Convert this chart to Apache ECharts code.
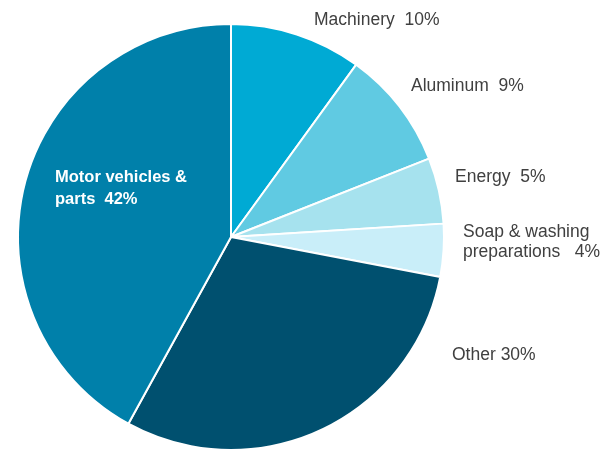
<!DOCTYPE html>
<html>
<head>
<meta charset="utf-8">
<script src="https://cdn.jsdelivr.net/npm/echarts@6/dist/echarts.min.js"></script>
<style>html,body{margin:0;padding:0;background:#fff}#c{width:606px;height:451px}</style>
</head>
<body>
<div id="c"></div>
<script>
var categories = ['Machinery', 'Aluminum', 'Energy', 'Soap & washing\npreparations', 'Other', 'Motor vehicles &\nparts'];
var values = [10, 9, 5, 4, 30, 42];
var colors = ['#00AAD4', '#60CAE2', '#A6E2EE', '#C9EEF9', '#00506F', '#0080AA'];
var labelPos = [[314, 20], [411, 86], [455, 177], [463, 242], [452, 355], [55, 188]];
var seps = ['  ', '  ', '  ', '   ', ' ', '  '];

var chart = echarts.init(document.getElementById('c'), null, {renderer: 'canvas'});
var data = categories.map(function (c, i) {
  var inside = i === 5;
  return {
    name: c,
    value: values[i],
    itemStyle: {color: colors[i]},
    label: inside ? {color: '#ffffff', fontWeight: 'bold', fontSize: 16.5, lineHeight: 22} : {}
  };
});
chart.setOption({
  animation: false,
  series: [{
    type: 'pie',
    center: [231, 237],
    radius: 213,
    startAngle: 90,
    clockwise: true,
    avoidLabelOverlap: false,
    data: data,
    itemStyle: {borderColor: '#ffffff', borderWidth: 2},
    label: {
      show: true,
      position: 'outside',
      fontFamily: 'Liberation Sans, Arial, sans-serif',
      fontSize: 17.5,
      color: '#404040',
      lineHeight: 20,
      overflow: 'none',
      formatter: function (p) { return p.name + seps[p.dataIndex] + p.value + '%'; }
    },
    labelLine: {show: false},
    labelLayout: function (p) {
      var pos = labelPos[p.dataIndex];
      return {x: pos[0], y: pos[1], align: 'left', verticalAlign: 'middle', hideOverlap: false};
    },
    emphasis: {disabled: true}
  }]
});
</script>
</body>
</html>
